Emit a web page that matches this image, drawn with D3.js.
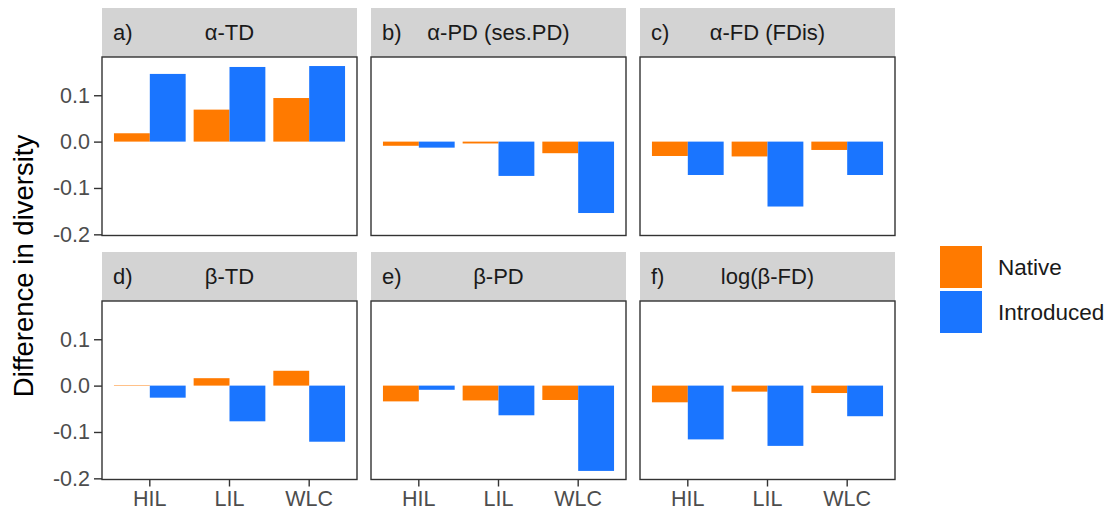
<!DOCTYPE html>
<html>
<head>
<meta charset="utf-8">
<script src="https://cdn.jsdelivr.net/npm/d3@7"></script>
<style>
  body { margin: 0; background: #fff; }
  text { font-family: "Liberation Sans", Arial, sans-serif; }
</style>
</head>
<body>
<div id="chart"></div>
<script>
// categories and values
var sites = ["HIL", "LIL", "WLC"];
var origins = ["Native", "Introduced"];
var panelTags = ["a)", "b)", "c)", "d)", "e)", "f)"];
var panelTitles = ["α-TD", "α-PD (ses.PD)", "α-FD (FDis)", "β-TD", "β-PD", "log(β-FD)"];
// one row per panel, one value per site
var nativeValues = [
  [0.018, 0.069, 0.094],
  [-0.009, -0.004, -0.025],
  [-0.031, -0.032, -0.018],
  [0.001, 0.016, 0.032],
  [-0.034, -0.032, -0.031],
  [-0.036, -0.013, -0.016]
];
var introducedValues = [
  [0.146, 0.161, 0.163],
  [-0.013, -0.074, -0.154],
  [-0.072, -0.140, -0.072],
  [-0.026, -0.077, -0.121],
  [-0.009, -0.064, -0.184],
  [-0.116, -0.130, -0.066]
];
var yTicks = [-0.2, -0.1, 0.0, 0.1];

var W = 1110, H = 517;
var left = 102, top0 = 8, pw = 255, gapX = 14;
var stripH = 49, ph = 178.5, gapY = 16.5;

var color = d3.scaleOrdinal().domain(origins).range(["#FF7A00", "#1A75FF"]);

var svg = d3.select("#chart").append("svg")
    .attr("width", W)
    .attr("height", H);

// shared scales (facets share x and y)
var y = d3.scaleLinear()
    .domain([-0.2025, 0.1825])
    .range([ph, 0]);

var x = d3.scaleBand()
    .domain(sites)
    .range([0, pw])
    .paddingInner(0.1)
    .paddingOuter(0.15);

var xSub = d3.scaleBand()
    .domain(origins)
    .range([0, x.bandwidth()]);

// plain hyphen for negatives, like the original
var fmt = function(d) { return d3.format(".1f")(d).replace("\u2212", "-"); };

panelTitles.forEach(function(title, i) {
  var col = i % 3, row = Math.floor(i / 3);
  var px = left + col * (pw + gapX);
  var py = top0 + row * (stripH + ph + gapY);

  var g = svg.append("g")
      .attr("transform", "translate(" + px + "," + py + ")");

  // strip
  g.append("rect")
      .attr("width", pw)
      .attr("height", stripH)
      .attr("fill", "#D3D3D3");
  g.append("text")
      .attr("x", 11)
      .attr("y", stripH / 2)
      .attr("dy", "0.36em")
      .attr("font-size", 22)
      .attr("fill", "#1A1A1A")
      .text(panelTags[i]);
  g.append("text")
      .attr("x", pw / 2)
      .attr("y", stripH / 2)
      .attr("dy", "0.36em")
      .attr("text-anchor", "middle")
      .attr("font-size", 22)
      .attr("fill", "#1A1A1A")
      .text(title);

  var p = g.append("g")
      .attr("transform", "translate(0," + stripH + ")");

  var rows = sites.map(function(s, j) {
    return { site: s, Native: nativeValues[i][j], Introduced: introducedValues[i][j] };
  });

  // bars
  p.selectAll(".site")
    .data(rows)
    .enter().append("g")
      .attr("transform", function(d) { return "translate(" + x(d.site) + ",0)"; })
    .selectAll("rect")
    .data(function(d) { return origins.map(function(o) { return { key: o, value: d[o] }; }); })
    .enter().append("rect")
      .attr("x", function(d) { return xSub(d.key); })
      .attr("width", xSub.bandwidth())
      .attr("y", function(d) { return y(Math.max(0, d.value)); })
      .attr("height", function(d) { return Math.abs(y(d.value) - y(0)); })
      .attr("fill", function(d) { return color(d.key); });

  // panel border
  p.append("rect")
      .attr("width", pw)
      .attr("height", ph)
      .attr("fill", "none")
      .attr("stroke", "#333333")
      .attr("stroke-width", 1.4);

  if (col === 0) {
    var ya = p.append("g")
        .call(d3.axisLeft(y).tickValues(yTicks).tickFormat(fmt).tickSize(8).tickSizeOuter(0).tickPadding(4));
    ya.select(".domain").remove();
    ya.selectAll("line").attr("stroke", "#333333").attr("stroke-width", 1.4);
    ya.selectAll("text").attr("font-size", 21.5).attr("fill", "#4D4D4D")
        .attr("font-family", "'Liberation Sans', Arial, sans-serif");
  }
  if (row === 1) {
    var xa = p.append("g")
        .attr("transform", "translate(0," + ph + ")")
        .call(d3.axisBottom(x).tickSize(7).tickSizeOuter(0).tickPadding(4));
    xa.select(".domain").remove();
    xa.selectAll("line").attr("stroke", "#333333").attr("stroke-width", 1.4);
    xa.selectAll("text").attr("font-size", 21.5).attr("fill", "#4D4D4D")
        .attr("font-family", "'Liberation Sans', Arial, sans-serif");
  }
});

// y axis title
svg.append("text")
    .attr("transform", "translate(33,266) rotate(-90)")
    .attr("text-anchor", "middle")
    .attr("font-size", 27.5)
    .attr("fill", "#000")
    .text("Difference in diversity");

// legend
var legend = svg.append("g")
    .attr("transform", "translate(940,246)");
var items = legend.selectAll(".item")
    .data(origins)
    .enter().append("g")
      .attr("transform", function(d, i) { return "translate(0," + (i * 45) + ")"; });
items.append("rect")
    .attr("width", 42)
    .attr("height", 42)
    .attr("fill", function(d) { return color(d); });
items.append("text")
    .attr("x", 58)
    .attr("y", 21)
    .attr("dy", "0.36em")
    .attr("font-size", 22.5)
    .attr("fill", "#1A1A1A")
    .text(function(d) { return d; });
</script>
</body>
</html>
